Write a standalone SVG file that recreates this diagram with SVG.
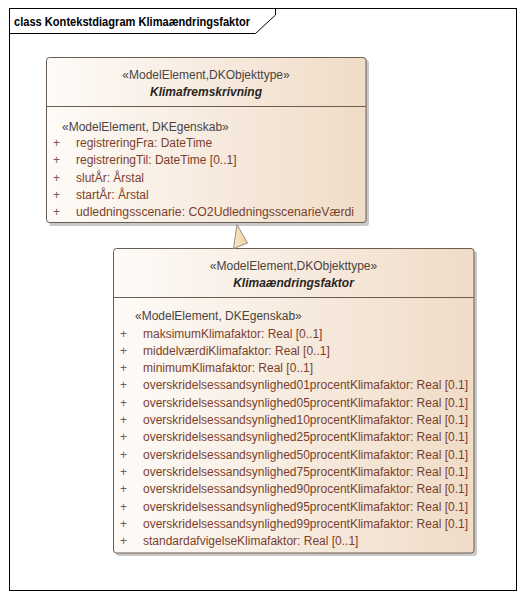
<svg xmlns="http://www.w3.org/2000/svg" width="523" height="598" viewBox="0 0 523 598">
<defs>
<linearGradient id="fillG" x1="0" y1="0" x2="1" y2="0">
<stop offset="0" stop-color="#fefbf8"/>
<stop offset="1" stop-color="#f0dcc7"/>
</linearGradient>
<linearGradient id="triG" x1="0" y1="0" x2="1" y2="0">
<stop offset="0" stop-color="#fbe8c8"/>
<stop offset="1" stop-color="#f0cf9c"/>
</linearGradient>
</defs>
<style>
.frame{fill:none;stroke:#000;stroke-width:1}
.box{fill:url(#fillG);stroke:#6b5d52;stroke-width:1}
.shadow{fill:#c9c9c9}
.div{stroke:#6b5d52;stroke-width:1}
text{font-family:"Liberation Sans",Arial,sans-serif;font-size:12px}
.title{font-weight:bold;fill:#000}
.st{fill:#4a4440;text-anchor:middle}
.nm{fill:#2a2522;font-weight:bold;font-style:italic;text-anchor:middle}
.ast{fill:#4a4440}
.pl{fill:#7a5a4c}
.at{fill:#7b3f2c}
.tri{fill:url(#triG);stroke:#9a8e84;stroke-width:1}
</style>
<rect x="0" y="0" width="523" height="598" fill="#fff"/>
<g id="frame">
<rect class="frame" x="9.5" y="8.5" width="507" height="582"/>
<path class="frame" d="M9.5,33.5 H255.5 L275.5,15 V8.5"/>
<text class="title" x="14" y="26" textLength="236" lengthAdjust="spacingAndGlyphs">class Kontekstdiagram Klimaændringsfaktor</text>
</g>
<g id="Klimafremskrivning">
<rect class="shadow" x="49" y="60" width="320" height="166" rx="3"/>
<rect class="box" x="46.5" y="57.5" width="319.5" height="165" rx="3"/>
<line class="div" x1="46.5" y1="106.5" x2="366" y2="106.5"/>
<text class="st" x="206" y="79">«ModelElement,DKObjekttype»</text>
<text class="nm" x="206" y="96">Klimafremskrivning</text>
<text class="ast" x="62" y="131">«ModelElement, DKEgenskab»</text>
<text class="pl" x="53" y="147">+</text><text class="at" x="76" y="147">registreringFra: DateTime</text>
<text class="pl" x="53" y="164.3">+</text><text class="at" x="76" y="164.3">registreringTil: DateTime [0..1]</text>
<text class="pl" x="53" y="181.6">+</text><text class="at" x="76" y="181.6">slutÅr: Årstal</text>
<text class="pl" x="53" y="198.9">+</text><text class="at" x="76" y="198.9">startÅr: Årstal</text>
<text class="pl" x="53" y="216.2">+</text><text class="at" x="76" y="216.2" textLength="278" lengthAdjust="spacingAndGlyphs">udledningsscenarie: CO2UdledningsscenarieVærdi</text>
</g>
<g id="Klimaaendringsfaktor">
<rect class="shadow" x="116" y="251" width="361" height="305" rx="3"/>
<rect class="box" x="113.5" y="248.5" width="360.5" height="304.5" rx="3"/>
<line class="div" x1="113.5" y1="297.5" x2="474" y2="297.5"/>
<text class="st" x="293.5" y="270">«ModelElement,DKObjekttype»</text>
<text class="nm" x="293.5" y="287">Klimaændringsfaktor</text>
<text class="ast" x="135" y="319.5">«ModelElement, DKEgenskab»</text>
<text class="pl" x="120" y="337.5">+</text><text class="at" x="143" y="337.5">maksimumKlimafaktor: Real [0..1]</text>
<text class="pl" x="120" y="354.8">+</text><text class="at" x="143" y="354.8">middelværdiKlimafaktor: Real [0..1]</text>
<text class="pl" x="120" y="372.1">+</text><text class="at" x="143" y="372.1">minimumKlimafaktor: Real [0..1]</text>
<text class="pl" x="120" y="389.4">+</text><text class="at" x="143" y="389.4" textLength="325" lengthAdjust="spacingAndGlyphs">overskridelsessandsynlighed01procentKlimafaktor: Real [0.1]</text>
<text class="pl" x="120" y="406.7">+</text><text class="at" x="143" y="406.7" textLength="325" lengthAdjust="spacingAndGlyphs">overskridelsessandsynlighed05procentKlimafaktor: Real [0.1]</text>
<text class="pl" x="120" y="424">+</text><text class="at" x="143" y="424" textLength="325" lengthAdjust="spacingAndGlyphs">overskridelsessandsynlighed10procentKlimafaktor: Real [0.1]</text>
<text class="pl" x="120" y="441.3">+</text><text class="at" x="143" y="441.3" textLength="325" lengthAdjust="spacingAndGlyphs">overskridelsessandsynlighed25procentKlimafaktor: Real [0.1]</text>
<text class="pl" x="120" y="458.6">+</text><text class="at" x="143" y="458.6" textLength="325" lengthAdjust="spacingAndGlyphs">overskridelsessandsynlighed50procentKlimafaktor: Real [0.1]</text>
<text class="pl" x="120" y="475.9">+</text><text class="at" x="143" y="475.9" textLength="325" lengthAdjust="spacingAndGlyphs">overskridelsessandsynlighed75procentKlimafaktor: Real [0.1]</text>
<text class="pl" x="120" y="493.2">+</text><text class="at" x="143" y="493.2" textLength="325" lengthAdjust="spacingAndGlyphs">overskridelsessandsynlighed90procentKlimafaktor: Real [0.1]</text>
<text class="pl" x="120" y="510.5">+</text><text class="at" x="143" y="510.5" textLength="325" lengthAdjust="spacingAndGlyphs">overskridelsessandsynlighed95procentKlimafaktor: Real [0.1]</text>
<text class="pl" x="120" y="527.8">+</text><text class="at" x="143" y="527.8" textLength="325" lengthAdjust="spacingAndGlyphs">overskridelsessandsynlighed99procentKlimafaktor: Real [0.1]</text>
<text class="pl" x="120" y="545.1">+</text><text class="at" x="143" y="545.1">standardafvigelseKlimafaktor: Real [0..1]</text>
</g>
<g id="connectors">
<polygon class="tri" points="237,224.5 247.5,243 233.5,248.5"/>
</g>
</svg>
